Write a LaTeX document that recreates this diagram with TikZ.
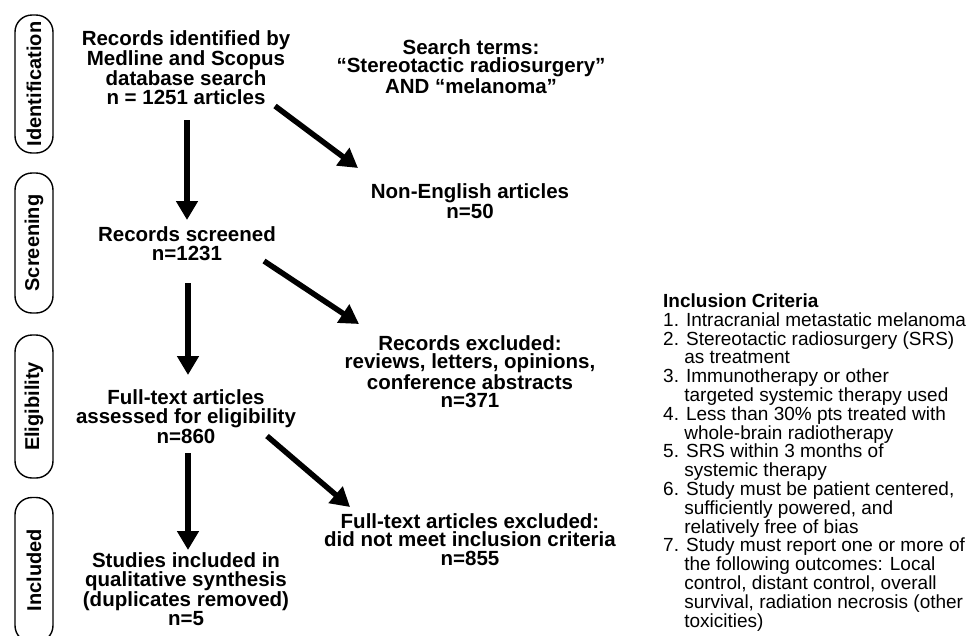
\documentclass[tikz,border=0pt]{standalone}
\usepackage{fontspec}
\setmainfont{Liberation Sans}
\usetikzlibrary{arrows.meta}
\newcommand{\critindent}{\phantom{0.\ }}

\begin{document}
\begin{tikzpicture}[x=1pt, y=-1pt,
stage/.style={align=center, inner sep=0pt, anchor=base, font=\fontsize{20.5}{18.5}\selectfont\bfseries},
phase/.style={draw, line width=1.4pt, rounded corners=17pt, rotate=90, minimum height=38pt, inner sep=0pt, font=\fontsize{20}{20}\selectfont\bfseries},
flow/.style={line width=5.5pt, -{Triangle[length=19pt, width=21pt]}}]
\useasboundingbox (0,0) rectangle (973,635);
\clip (0,0) rectangle (973,635);
% phases
\node[phase, minimum width=138pt] (ident) at (34,84) {Identification};
\node[phase, minimum width=140pt] (screen) at (34,243) {Screening};
\node[phase, minimum width=143pt] (elig) at (34,406.5) {Eligibility};
\node[phase, minimum width=145pt] (inclu) at (34,570) {Included};
% flow (base = last line)
\node[stage] (rec) at (186,104) {Records identified by\\ Medline and Scopus\\ database search\\ n = 1251 articles};
\node[stage] (search) at (471,93) {Search terms:\\ “Stereotactic radiosurgery”\\ AND “melanoma”};
\node[stage] (noneng) at (470,218) {Non-English articles\\ n=50};
\node[stage] (scr) at (187,260) {Records screened\\ n=1231};
\node[stage] (recexc) at (470,407.5) {Records excluded:\\ reviews, letters, opinions,\\ conference abstracts\\ n=371};
\node[stage] (full) at (186,443) {Full-text articles\\ assessed for eligibility\\ n=860};
\node[stage] (fullexc) at (470,565) {Full-text articles excluded:\\ did not meet inclusion criteria\\ n=855};
\node[stage] (incl) at (186,625) {Studies included in\\ qualitative synthesis\\ (duplicates removed)\\ n=5};
\draw[flow] ([shift={(1,16)}]rec.base) -- ([shift={(0,-40)}]scr.base);
\draw[flow] ([shift={(89,2)}]rec.base) -- ([shift={(-112,-50)}]noneng.base);
\draw[flow] ([shift={(1,23)}]scr.base) -- ([shift={(2,-68)}]full.base);
\draw[flow] ([shift={(77,1)}]scr.base) -- ([shift={(-111,-83.5)}]recexc.base);
\draw[flow] ([shift={(2,10)}]full.base) -- ([shift={(2,-75)}]incl.base);
\draw[flow] ([shift={(81,-7)}]full.base) -- ([shift={(-120,-58)}]fullexc.base);
% criteria
\node[align=left, anchor=base west, inner sep=0pt, font=\fontsize{19}{18.8}\selectfont] (crit) at (663,627) {\textbf{Inclusion Criteria}\\
1. Intracranial metastatic melanoma\\
2. Stereotactic radiosurgery (SRS)\\
\critindent as treatment\\
3. Immunotherapy or other\\
\critindent targeted systemic therapy used\\
4. Less than 30\% pts treated with\\
\critindent whole-brain radiotherapy\\
5. SRS within 3 months of\\
\critindent systemic therapy\\
6. Study must be patient centered,\\
\critindent sufficiently powered, and\\
\critindent relatively free of bias\\
7. Study must report one or more of\\
\critindent the following outcomes: Local\\
\critindent control, distant control, overall\\
\critindent survival, radiation necrosis (other\\
\critindent toxicities)};
\end{tikzpicture}
\end{document}
